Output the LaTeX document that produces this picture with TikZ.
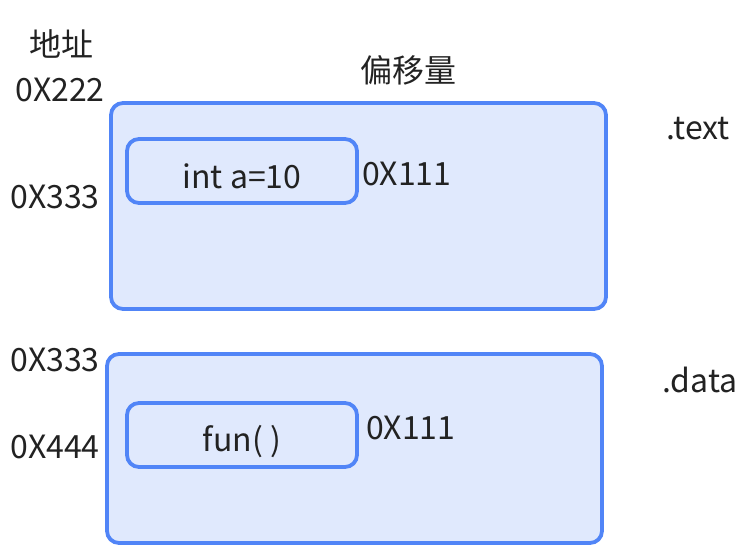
\documentclass[tikz,border=0pt]{standalone}
\usepackage{fontspec}
\setmainfont{Noto Sans CJK SC}
\usetikzlibrary{positioning}
\definecolor{segline}{HTML}{5185F7}
\definecolor{segfill}{HTML}{E0E9FD}
\definecolor{inktext}{HTML}{222222}

\begin{document}
\begin{tikzpicture}[x=1pt,y=-1pt,
    segbox/.style={draw=segline,fill=segfill,line width=3.8pt,rounded corners=12pt,inner sep=0pt},
    label/.style={text=inktext,inner sep=0pt,font=\fontsize{32}{38}\selectfont}]
    \useasboundingbox (0,0) rectangle (756,559);

    % segments
    \node[segbox,minimum width=495pt,minimum height=206pt] (textseg) at (358.5,206) {};
    \node[segbox,minimum width=230pt,minimum height=64pt] (intbox) at (242,171) {};
    \node[segbox,minimum width=495pt,minimum height=189pt] (dataseg) at (354.5,448.5) {};
    \node[segbox,minimum width=230pt,minimum height=64pt] (funbox) at (242,435) {};

    % contents
    \node[label] (intvar) at ([yshift=-5pt]intbox.center) {int a=10};
    \node[label] (funcall) at ([yshift=-7pt]funbox.center) {fun( )};

    % headings
    \node[label] (addrhead) at (62,44) {地址};
    \node[label] (offhead) at (408,70) {偏移量};
    \node[label,anchor=west] (textname) at (666,129) {.text};
    \node[label,anchor=west] (dataname) at (662,380) {.data};

    % addresses
    \node[label] (addrA) at (60,90) {0X222};
    \node[label] (addrB) at (55,197) {0X333};
    \node[label] (addrC) at (55,360) {0X333};
    \node[label] (addrD) at (55,447) {0X444};

    % offsets
    \node[label,anchor=west] (offA) at ([xshift=3pt,yshift=-3pt]intbox.east) {0X111};
    \node[label,anchor=west] (offB) at ([xshift=7pt,yshift=7pt]funbox.east) {0X111};
\end{tikzpicture}
\end{document}
